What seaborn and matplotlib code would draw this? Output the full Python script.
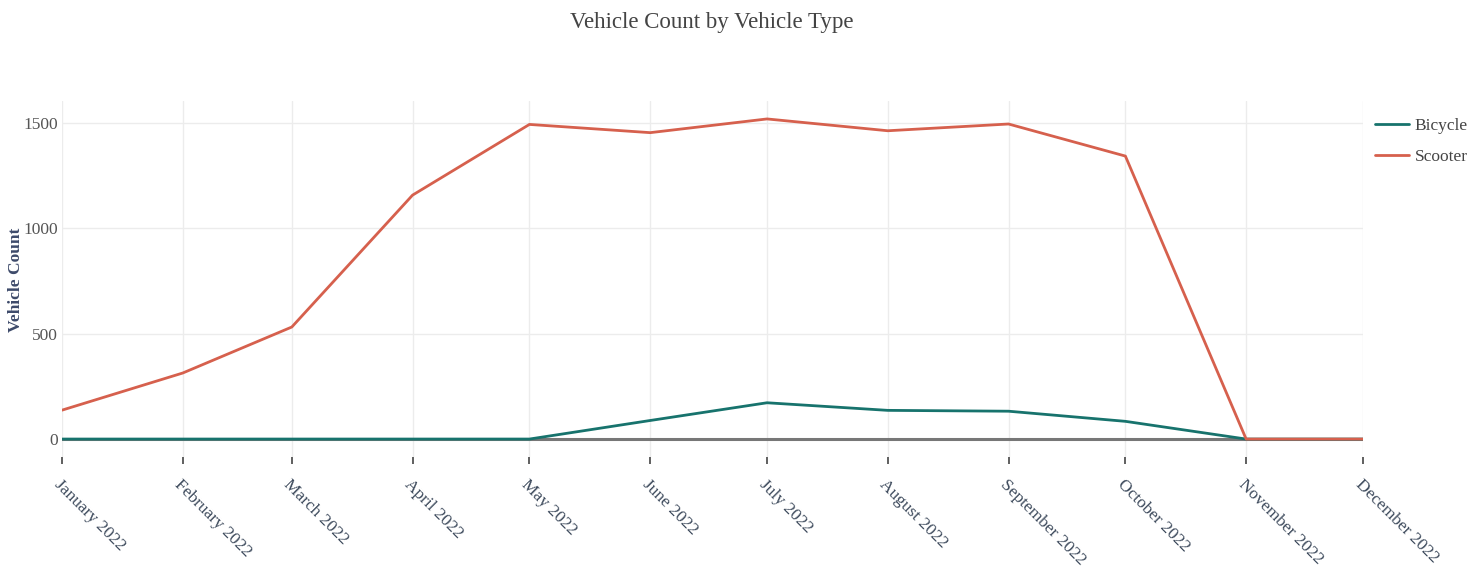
import pandas as pd
import numpy as np
import matplotlib
matplotlib.use("Agg")
import matplotlib.pyplot as plt
import matplotlib.dates as mdates
import seaborn as sns

months = ["2022-01-01", "2022-02-01", "2022-03-01", "2022-04-01", "2022-05-01", "2022-06-01",
          "2022-07-01", "2022-08-01", "2022-09-01", "2022-10-01", "2022-11-01", "2022-12-01"]
bicycle = [0, 0, 0, 0, 0, 88, 172, 136, 132, 84, 0, 0]
scooter = [137, 313, 531, 1156, 1491, 1452, 1517, 1461, 1493, 1341, 0, 0]
series_names = ["Bicycle", "Scooter"]
colors = {"Bicycle": "#17736d", "Scooter": "#d6604d"}
y_ticks = [0, 500, 1000, 1500]

df = pd.DataFrame({
    "Month": pd.to_datetime(months * 2),
    "Vehicle Count": bicycle + scooter,
    "Vehicle Type": [series_names[0]] * len(bicycle) + [series_names[1]] * len(scooter),
})

sns.set_theme(style="white")
plt.rcParams["font.family"] = ["Liberation Serif", "DejaVu Serif"]

fig = plt.figure(figsize=(14.75, 5.71), dpi=100)
ax = fig.add_axes([62 / 1475, 1 - 457 / 571, (1363 - 62) / 1475, (457 - 101) / 571])

ax.axhline(0, color="#777777", lw=2.2, zorder=1)
sns.lineplot(data=df, x="Month", y="Vehicle Count", hue="Vehicle Type",
             palette=colors, linewidth=2.0, ax=ax, zorder=3, legend=True)

ax.set_xlim(pd.Timestamp(months[0]), pd.Timestamp(months[-1]))
ax.set_ylim(-85, 1602)
ax.set_yticks(y_ticks)
ax.set_xticks(pd.to_datetime(months))
ax.xaxis.set_major_formatter(mdates.DateFormatter("%B %Y"))

ax.grid(True, color="#ececec", lw=1)
ax.set_axisbelow(True)
for s in ax.spines.values():
    s.set_visible(False)

ax.tick_params(axis="x", length=5, width=1.2, color="#444444", pad=9,
               labelsize=12.5, labelcolor="#3d4a5c", direction="out", bottom=True)
ax.tick_params(axis="y", length=0, pad=3, labelsize=12.5, labelcolor="#555555")
for lab in ax.get_xticklabels():
    lab.set_rotation(-45)
    lab.set_ha("left")
    lab.set_va("top")
    lab.set_rotation_mode("anchor")

ax.set_xlabel("")
ax.set_ylabel("Vehicle Count", fontsize=12.5, fontweight="bold", color="#3d4a6a")
ax.yaxis.set_label_coords((24 - 62) / (1363 - 62), (457 - 280) / (457 - 101))

handles, labels = ax.get_legend_handles_labels()
ax.get_legend().remove()
fig.legend(handles, labels, loc="upper left", bbox_to_anchor=(1359 / 1475, 1 - 102 / 571),
           frameon=False, fontsize=12.5, handlelength=2.0, handletextpad=0.3,
           labelspacing=0.85, labelcolor="#444444")

fig.suptitle("Vehicle Count by Vehicle Type", x=712 / 1475, y=1 - 12 / 571, va="top",
             fontsize=16.5, color="#444444")

fig.savefig("out.png", dpi=100)
